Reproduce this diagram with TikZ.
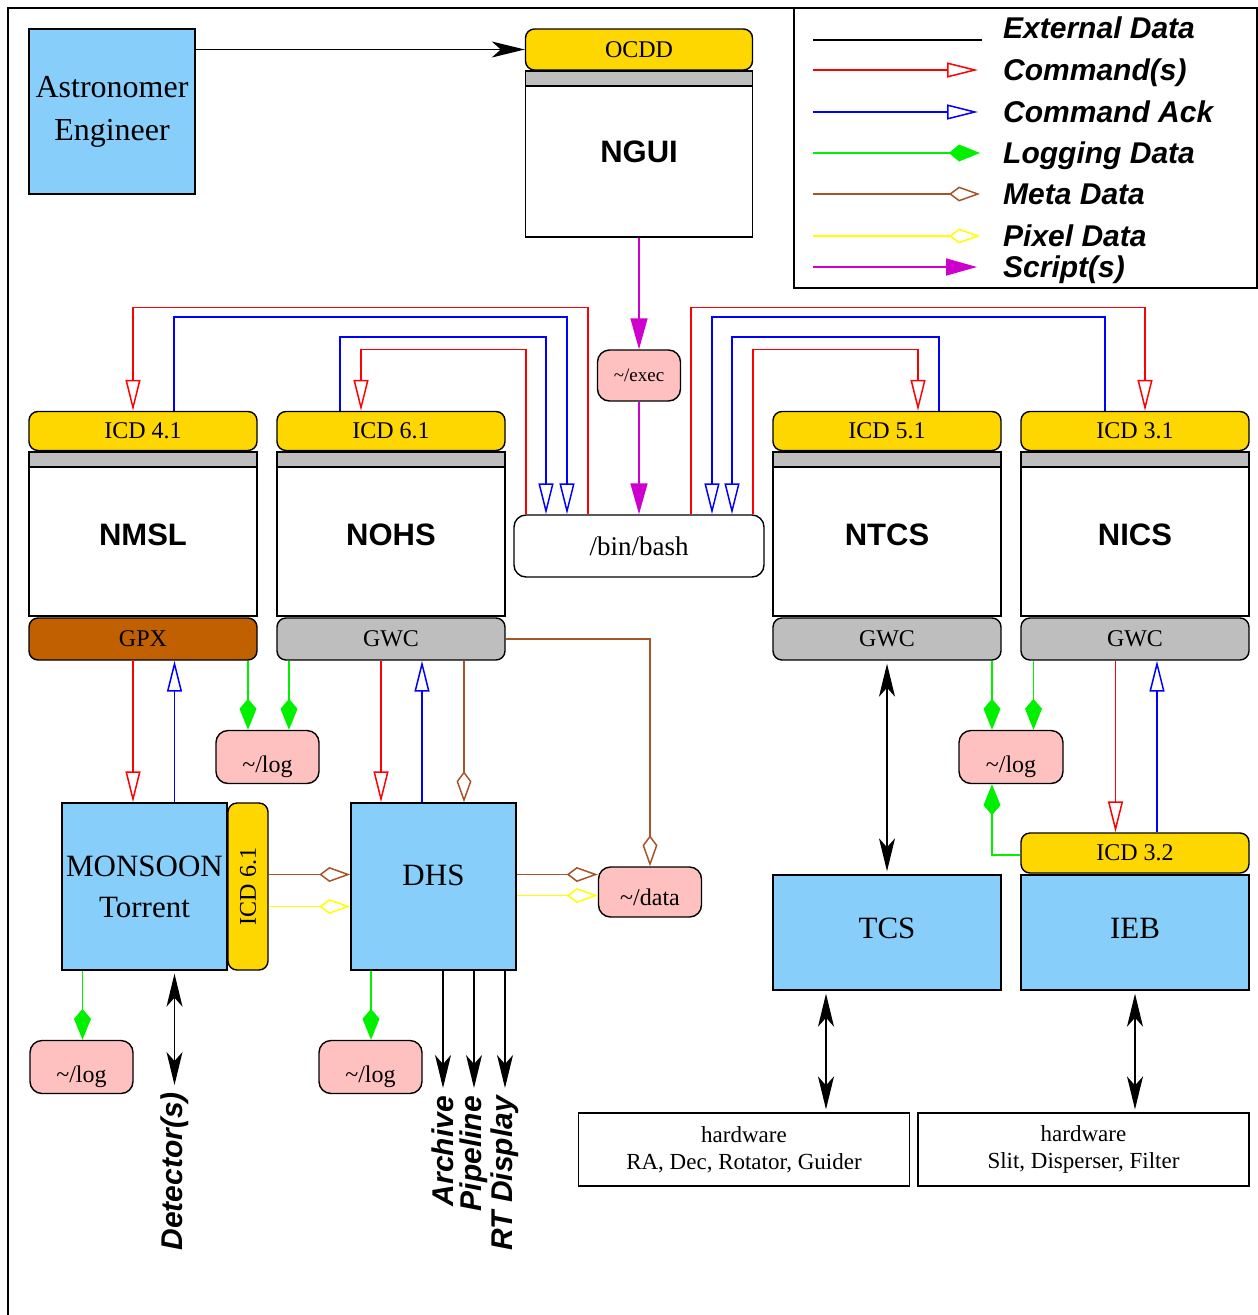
\documentclass[tikz,border=0pt]{standalone}
\usepackage{fontspec}
\setmainfont{Liberation Serif}
\setsansfont{Liberation Sans}
\usepackage{graphicx}
\usetikzlibrary{arrows.meta}
\definecolor{host_blue}{RGB}{135,206,250}
\definecolor{icd_yellow}{RGB}{255,215,0}
\definecolor{bar_grey}{RGB}{190,190,190}
\definecolor{log_pink}{RGB}{255,192,192}
\definecolor{gpx_brown}{RGB}{192,96,0}
\definecolor{meta_brown}{RGB}{165,85,40}
\definecolor{pix_yellow}{RGB}{255,255,0}
\definecolor{log_green}{RGB}{0,240,0}
\definecolor{scr_magenta}{RGB}{205,0,205}
\tikzstyle{blk}=[draw=black,line width=1.4pt,inner sep=0pt]
\tikzstyle{icd}=[blk,rounded corners=9pt,fill=icd_yellow,minimum width=228pt,minimum height=39pt,
  font=\fontsize{24}{26}\selectfont]
\tikzstyle{bar}=[blk,fill=bar_grey,minimum width=228pt,minimum height=15pt]
\tikzstyle{pane}=[blk,fill=white,minimum width=228pt,minimum height=149pt,text depth=14pt,
  font=\sffamily\bfseries\fontsize{31}{34}\selectfont]
\tikzstyle{gw}=[blk,rounded corners=9pt,fill=bar_grey,minimum width=228pt,minimum height=42pt,
  font=\fontsize{24}{26}\selectfont]
\tikzstyle{store}=[blk,rounded corners=12pt,fill=log_pink,minimum width=103pt,minimum height=53pt,
  text height=36pt,font=\fontsize{24}{26}\selectfont]
\tikzstyle{host}=[blk,fill=host_blue,align=center,font=\fontsize{31}{41}\selectfont]
\tikzstyle{shell}=[blk,rounded corners=12pt,fill=white,minimum width=250pt,minimum height=62pt,
  font=\fontsize{27}{29}\selectfont]
\tikzstyle{hw}=[blk,line width=1.2pt,fill=white,minimum width=331pt,minimum height=73pt,align=center,
  font=\fontsize{23}{27}\selectfont]
\tikzstyle{legendtext}=[anchor=west,inner sep=0pt,text height=21pt,text depth=0pt,
  font=\sffamily\bfseries\itshape\fontsize{30}{32}\selectfont]
\tikzstyle{farend}=[rotate=90,anchor=east,inner sep=0pt,
  font=\sffamily\bfseries\itshape\fontsize{30}{32}\selectfont]
\tikzstyle{wire}=[line width=1.5pt]
\tikzstyle{extline}=[wire,draw=black]
\tikzstyle{cmdline}=[wire,draw=red,-{Triangle[open,length=31pt,width=15pt]}]
\tikzstyle{ackline}=[wire,draw=blue,-{Triangle[open,length=31pt,width=15pt]}]
\tikzstyle{logline}=[wire,draw=log_green,-{Kite[length=31pt,width=17pt,inset=10pt]}]
\tikzstyle{metaline}=[wire,draw=meta_brown,-{Kite[open,length=31pt,width=15pt,inset=10pt]}]
\tikzstyle{pixline}=[wire,draw=pix_yellow,-{Kite[open,length=31pt,width=15pt,inset=10pt]}]
\tikzstyle{scrline}=[wire,draw=scr_magenta,-{Triangle[length=31pt,width=17pt]}]
\tikzstyle{dataout}=[extline,-{Stealth[length=33pt,width=16pt,inset=9pt]}]
\tikzstyle{duplex}=[extline,{Stealth[length=33pt,width=16pt,inset=9pt]}-{Stealth[length=33pt,width=16pt,inset=9pt]},
  shorten <=3pt,shorten >=3pt]
\begin{document}
\begin{tikzpicture}[x=1pt,y=-1pt]
        \useasboundingbox (0,0) rectangle (1258,1315);
        \draw [line width=1.4pt] (8,1315) -- (8,8) -- (1258,8);
        \draw [line width=1.4pt] (794,8) rectangle (1257,288);
        \node [style=host,minimum width=166pt,minimum height=165pt,font=\fontsize{32}{43}\selectfont] (astro) at (112,111.5) {Astronomer\\Engineer};
        \node [style=icd,minimum width=227pt,minimum height=41pt] (ocdd) at (639,49.5) {OCDD};
        \node [style=bar,minimum width=227pt] (barN) at (639,78.5) {};
        \node [style=pane,minimum width=227pt,minimum height=151pt,text depth=19pt] (ngui) at (639,161.5) {NGUI};
        \node [style=store,minimum width=83pt,minimum height=51pt,text height=13pt,font=\fontsize{19}{21}\selectfont] (exec) at (639,375.5) {\textasciitilde/exec};
        \node [style=shell] (bash) at (639,546) {/bin/bash};
        \node [style=icd] (icdA) at (143,431) {ICD 4.1};
        \node [style=bar] (barA) at (143,459.5) {};
        \node [style=pane] (nmsl) at (143,541.5) {NMSL};
        \node [style=gw,fill=gpx_brown] (gpx) at (143,639) {GPX};
        \node [style=icd] (icdB) at (391,431) {ICD 6.1};
        \node [style=bar] (barB) at (391,459.5) {};
        \node [style=pane] (nohs) at (391,541.5) {NOHS};
        \node [style=gw] (gwcB) at (391,639) {GWC};
        \node [style=icd] (icdC) at (887,431) {ICD 5.1};
        \node [style=bar] (barC) at (887,459.5) {};
        \node [style=pane] (ntcs) at (887,541.5) {NTCS};
        \node [style=gw] (gwcC) at (887,639) {GWC};
        \node [style=icd] (icdD) at (1135,431) {ICD 3.1};
        \node [style=bar] (barD) at (1135,459.5) {};
        \node [style=pane] (nics) at (1135,541.5) {NICS};
        \node [style=gw] (gwcD) at (1135,639) {GWC};
        \node [style=store] (logA) at (267.5,757) {\textasciitilde/log};
        \node [style=host,minimum width=165pt,minimum height=167pt] (monsoon) at (144.5,886.5) {MONSOON\\Torrent};
        \node [style=icd,minimum width=40pt,minimum height=167pt] (icdM) at (248,886.5) {\rotatebox{90}{ICD 6.1}};
        \node [style=host,minimum width=165pt,minimum height=167pt,text depth=22pt] (dhs) at (433.5,886.5) {DHS};
        \node [style=store,minimum height=50pt,text height=28pt] (data) at (650,892) {\textasciitilde/data};
        \node [style=store,minimum width=104pt] (logC) at (1011,757) {\textasciitilde/log};
        \node [style=icd,minimum height=40pt] (icdI) at (1135,853) {ICD 3.2};
        \node [style=host,minimum width=228pt,minimum height=115pt,text depth=9pt] (tcs) at (887,932.5) {TCS};
        \node [style=host,minimum width=228pt,minimum height=115pt,text depth=9pt] (ieb) at (1135,932.5) {IEB};
        \node [style=store] (logM) at (81.5,1067) {\textasciitilde/log};
        \node [style=store] (logD) at (370.5,1067) {\textasciitilde/log};
        \node [style=hw] (hwT) at (744,1149.5) {hardware\\RA, Dec, Rotator, Guider};
        \node [style=hw] (hwI) at (1083.5,1149.5) {hardware\\Slit, Disperser, Filter};
        \coordinate (det) at (174.5,1088);
        \coordinate (arch) at (443,1088);
        \coordinate (pipe) at (474,1088);
        \coordinate (rtd) at (505,1088);
        \node [style=farend] (detl) at ([yshift=-4pt]det) {Detector(s)};
        \node [style=farend] (archl) at ([yshift=-8pt]arch) {Archive};
        \node [style=farend] (pipel) at ([yshift=-8pt]pipe) {Pipeline};
        \node [style=farend] (rtdl) at ([yshift=-8pt]rtd) {RT Display};
        \draw [style=dataout] (astro.east |- ocdd.west) -- (ocdd.west);
        \draw [style=scrline] (ngui.south) -- (exec.north);
        \draw [style=scrline] (exec.south) -- (bash.north);
        \draw [style=cmdline] ([xshift=-51pt]bash.north) -- ++(0,-207) -| ([xshift=-10pt]icdA.north);
        \draw [style=ackline] ([xshift=31pt]icdA.north) -- ++(0,-94) -| ([xshift=-72pt]bash.north);
        \draw [style=ackline] ([xshift=-51pt]icdB.north) -- ++(0,-74) -| ([xshift=-93pt]bash.north);
        \draw [style=cmdline] ([xshift=-113pt]bash.north) -- ++(0,-165) -| ([xshift=-30pt]icdB.north);
        \draw [style=cmdline] ([xshift=52pt]bash.north) -- ++(0,-207) -| ([xshift=10pt]icdD.north);
        \draw [style=ackline] ([xshift=-30pt]icdD.north) -- ++(0,-94) -| ([xshift=73pt]bash.north);
        \draw [style=ackline] ([xshift=52pt]icdC.north) -- ++(0,-74) -| ([xshift=93pt]bash.north);
        \draw [style=cmdline] ([xshift=114pt]bash.north) -- ++(0,-165) -| ([xshift=31pt]icdC.north);
        \draw [style=cmdline] ([xshift=-10pt]gpx.south) -- ([xshift=-10pt]gpx.south |- monsoon.north);
        \draw [style=ackline] ([xshift=30pt]monsoon.north) -- ([xshift=30pt]monsoon.north |- gpx.south);
        \draw [style=logline] ([xshift=105pt]gpx.south) -- ([xshift=105pt]gpx.south |- logA.north);
        \draw [style=logline] ([xshift=-102pt]gwcB.south) -- ([xshift=-102pt]gwcB.south |- logA.north);
        \draw [style=cmdline] ([xshift=-10pt]gwcB.south) -- ([xshift=-10pt]gwcB.south |- dhs.north);
        \draw [style=ackline] ([xshift=-11.5pt]dhs.north) -- ([xshift=-11.5pt]dhs.north |- gwcB.south);
        \draw [style=metaline] ([xshift=73pt]gwcB.south) -- ([xshift=73pt]gwcB.south |- dhs.north);
        \draw [style=metaline] (gwcB.east) -| (data.north);
        \draw [style=metaline] ([yshift=12pt]icdM.east) -- ([yshift=12pt]icdM.east -| dhs.west);
        \draw [style=pixline] ([yshift=-20pt]icdM.east) -- ([yshift=-20pt]icdM.east -| dhs.west);
        \draw [style=metaline] ([yshift=12pt]dhs.east) -- ([yshift=12pt]dhs.east -| data.west);
        \draw [style=pixline] ([yshift=-9pt]dhs.east) -- ([yshift=-9pt]dhs.east -| data.west);
        \draw [style=logline] ([xshift=-62pt]monsoon.south) -- ([xshift=-62pt]monsoon.south |- logM.north);
        \draw [style=logline] ([xshift=-62.5pt]dhs.south) -- ([xshift=-62.5pt]dhs.south |- logD.north);
        \draw [style=duplex] (det |- monsoon.south) -- (det);
        \draw [style=dataout] (arch |- dhs.south) -- (arch);
        \draw [style=dataout] (pipe |- dhs.south) -- (pipe);
        \draw [style=dataout] (rtd |- dhs.south) -- (rtd);
        \draw [style=duplex] (gwcC.south) -- (tcs.north);
        \draw [style=logline] ([xshift=105pt]gwcC.south) -- ([xshift=105pt]gwcC.south |- logC.north);
        \draw [style=logline] ([xshift=-101.5pt]gwcD.south) -- ([xshift=-101.5pt]gwcD.south |- logC.north);
        \draw [style=cmdline] ([xshift=-19.5pt]gwcD.south) -- ([xshift=-19.5pt]gwcD.south |- icdI.north);
        \draw [style=ackline] ([xshift=22pt]icdI.north) -- ([xshift=22pt]icdI.north |- gwcD.south);
        \draw [style=logline] ([yshift=-2pt]icdI.west) -| ([xshift=-19pt]logC.south);
        \draw [style=duplex] ([xshift=-61pt]tcs.south) -- ([xshift=-61pt]tcs.south |- hwT.north);
        \draw [style=duplex] (ieb.south) -- (ieb.south |- hwI.north);
        \draw [style=extline] (813,40) -- (982,40);
        \draw [style=cmdline] (813,70) -- (978,70);
        \draw [style=ackline] (813,112) -- (978,112);
        \draw [style=logline] (813,153) -- (980,153);
        \draw [style=metaline] (813,194) -- (980,194);
        \draw [style=pixline] (813,236) -- (980,236);
        \draw [style=scrline] (813,267) -- (977,267);
        \node [style=legendtext] (kext) at (1003,28) {External Data};
        \node [style=legendtext] (kcmd) at (1003,70) {Command(s)};
        \node [style=legendtext] (kack) at (1003,112) {Command Ack};
        \node [style=legendtext] (klog) at (1003,153) {Logging Data};
        \node [style=legendtext] (kmeta) at (1003,194) {Meta Data};
        \node [style=legendtext] (kpix) at (1003,236) {Pixel Data};
        \node [style=legendtext] (kscr) at (1003,267) {Script(s)};
    \end{tikzpicture}
\end{document}
